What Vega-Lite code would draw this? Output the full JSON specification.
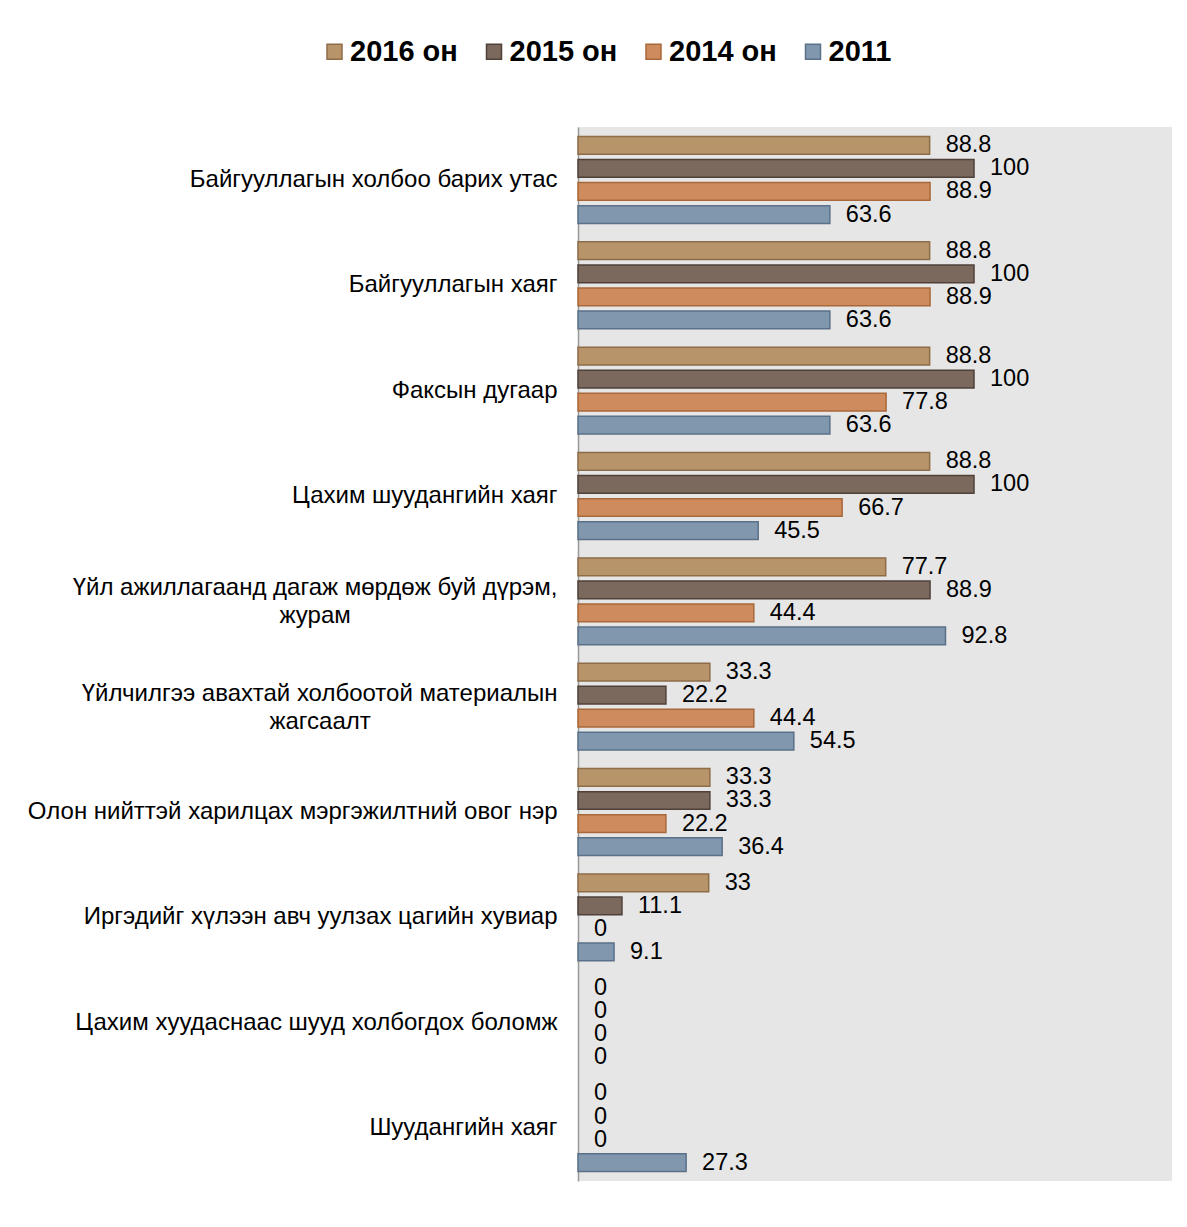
{
  "$schema": "https://vega.github.io/schema/vega-lite/v6.json",
  "autosize": "none",
  "width": 594,
  "height": 1054,
  "padding": {"left": 578, "top": 127, "right": 15, "bottom": 46},
  "background": "white",
  "data": {
    "values": [
      {"category": "Байгууллагын холбоо барих утас", "series": "2016 он", "value": 88.8},
      {"category": "Байгууллагын холбоо барих утас", "series": "2015 он", "value": 100},
      {"category": "Байгууллагын холбоо барих утас", "series": "2014 он", "value": 88.9},
      {"category": "Байгууллагын холбоо барих утас", "series": "2011", "value": 63.6},
      {"category": "Байгууллагын хаяг", "series": "2016 он", "value": 88.8},
      {"category": "Байгууллагын хаяг", "series": "2015 он", "value": 100},
      {"category": "Байгууллагын хаяг", "series": "2014 он", "value": 88.9},
      {"category": "Байгууллагын хаяг", "series": "2011", "value": 63.6},
      {"category": "Факсын дугаар", "series": "2016 он", "value": 88.8},
      {"category": "Факсын дугаар", "series": "2015 он", "value": 100},
      {"category": "Факсын дугаар", "series": "2014 он", "value": 77.8},
      {"category": "Факсын дугаар", "series": "2011", "value": 63.6},
      {"category": "Цахим шуудангийн хаяг", "series": "2016 он", "value": 88.8},
      {"category": "Цахим шуудангийн хаяг", "series": "2015 он", "value": 100},
      {"category": "Цахим шуудангийн хаяг", "series": "2014 он", "value": 66.7},
      {"category": "Цахим шуудангийн хаяг", "series": "2011", "value": 45.5},
      {"category": "Үйл ажиллагаанд дагаж мөрдөж буй дүрэм, журам", "series": "2016 он", "value": 77.7},
      {"category": "Үйл ажиллагаанд дагаж мөрдөж буй дүрэм, журам", "series": "2015 он", "value": 88.9},
      {"category": "Үйл ажиллагаанд дагаж мөрдөж буй дүрэм, журам", "series": "2014 он", "value": 44.4},
      {"category": "Үйл ажиллагаанд дагаж мөрдөж буй дүрэм, журам", "series": "2011", "value": 92.8},
      {"category": "Үйлчилгээ авахтай холбоотой материалын жагсаалт", "series": "2016 он", "value": 33.3},
      {"category": "Үйлчилгээ авахтай холбоотой материалын жагсаалт", "series": "2015 он", "value": 22.2},
      {"category": "Үйлчилгээ авахтай холбоотой материалын жагсаалт", "series": "2014 он", "value": 44.4},
      {"category": "Үйлчилгээ авахтай холбоотой материалын жагсаалт", "series": "2011", "value": 54.5},
      {"category": "Олон нийттэй харилцах мэргэжилтний овог нэр", "series": "2016 он", "value": 33.3},
      {"category": "Олон нийттэй харилцах мэргэжилтний овог нэр", "series": "2015 он", "value": 33.3},
      {"category": "Олон нийттэй харилцах мэргэжилтний овог нэр", "series": "2014 он", "value": 22.2},
      {"category": "Олон нийттэй харилцах мэргэжилтний овог нэр", "series": "2011", "value": 36.4},
      {"category": "Иргэдийг хүлээн авч уулзах цагийн хувиар", "series": "2016 он", "value": 33},
      {"category": "Иргэдийг хүлээн авч уулзах цагийн хувиар", "series": "2015 он", "value": 11.1},
      {"category": "Иргэдийг хүлээн авч уулзах цагийн хувиар", "series": "2014 он", "value": 0},
      {"category": "Иргэдийг хүлээн авч уулзах цагийн хувиар", "series": "2011", "value": 9.1},
      {"category": "Цахим хуудаснаас шууд холбогдох боломж", "series": "2016 он", "value": 0},
      {"category": "Цахим хуудаснаас шууд холбогдох боломж", "series": "2015 он", "value": 0},
      {"category": "Цахим хуудаснаас шууд холбогдох боломж", "series": "2014 он", "value": 0},
      {"category": "Цахим хуудаснаас шууд холбогдох боломж", "series": "2011", "value": 0},
      {"category": "Шуудангийн хаяг", "series": "2016 он", "value": 0},
      {"category": "Шуудангийн хаяг", "series": "2015 он", "value": 0},
      {"category": "Шуудангийн хаяг", "series": "2014 он", "value": 0},
      {"category": "Шуудангийн хаяг", "series": "2011", "value": 27.3}
    ]
  },
  "encoding": {
    "y": {
      "field": "category",
      "type": "nominal",
      "scale": {
        "domain": [
          "Байгууллагын холбоо барих утас",
          "Байгууллагын хаяг",
          "Факсын дугаар",
          "Цахим шуудангийн хаяг",
          "Үйл ажиллагаанд дагаж мөрдөж буй дүрэм, журам",
          "Үйлчилгээ авахтай холбоотой материалын жагсаалт",
          "Олон нийттэй харилцах мэргэжилтний овог нэр",
          "Иргэдийг хүлээн авч уулзах цагийн хувиар",
          "Цахим хуудаснаас шууд холбогдох боломж",
          "Шуудангийн хаяг"
        ],
        "paddingInner": 0.125,
        "paddingOuter": 0.065
      },
      "axis": {
        "title": null,
        "ticks": false,
        "labelPadding": 21,
        "labelFont": "Liberation Sans",
        "labelFontSize": 24,
        "labelColor": "#000000",
        "labelLineHeight": 28,
        "labelLimit": 0,
        "domainColor": "#999999",
        "domainWidth": 1.5,
        "grid": false,
        "labelOffset": {"expr": "indexof(datum.value, 'журам') >= 0 || indexof(datum.value, 'жагсаалт') >= 0 ? -13 : 0"},
        "labelExpr": "datum.label == 'Үйл ажиллагаанд дагаж мөрдөж буй дүрэм, журам' ? ['Үйл ажиллагаанд дагаж мөрдөж буй дүрэм,', 'журам' + pad('', 31, '\u00a0') + '\u200b'] : datum.label == 'Үйлчилгээ авахтай холбоотой материалын жагсаалт' ? ['Үйлчилгээ авахтай холбоотой материалын', 'жагсаалт' + pad('', 28, '\u00a0') + '\u200b'] : datum.label"
      }
    },
    "yOffset": {
      "field": "series",
      "type": "nominal",
      "sort": ["2016 он", "2015 он", "2014 он", "2011"],
      "scale": {"paddingInner": 0.23, "paddingOuter": 0.115}
    },
    "x": {
      "field": "value",
      "type": "quantitative",
      "scale": {"domain": [0, 150], "nice": false},
      "axis": null
    }
  },
  "layer": [
    {
      "transform": [{"filter": "datum.value > 0"}],
      "mark": {"type": "bar", "strokeWidth": 1.5},
      "encoding": {
        "fill": {
          "field": "series",
          "type": "nominal",
          "sort": ["2016 он", "2015 он", "2014 он", "2011"],
          "scale": {
            "domain": ["2016 он", "2015 он", "2014 он", "2011"],
            "range": ["#b8946b", "#7b695d", "#cd8b5e", "#8097ae"]
          },
          "legend": {
            "orient": "none",
            "legendX": -258,
            "legendY": -90,
            "direction": "horizontal",
            "title": null,
            "symbolType": "square",
            "symbolSize": 225,
            "symbolStrokeWidth": 1.5,
            "labelFont": "Liberation Sans",
            "labelFontSize": 29,
            "labelFontWeight": "bold",
            "labelColor": "#000000",
            "labelOffset": 1,
            "columnPadding": 21.5
          }
        },
        "stroke": {
          "field": "series",
          "type": "nominal",
          "sort": ["2016 он", "2015 он", "2014 он", "2011"],
          "scale": {
            "domain": ["2016 он", "2015 он", "2014 он", "2011"],
            "range": ["#8d6c48", "#4f4139", "#a9683a", "#5b7089"]
          },
          "legend": {
            "orient": "none",
            "legendX": -258,
            "legendY": -90,
            "direction": "horizontal",
            "title": null,
            "symbolType": "square",
            "symbolSize": 225,
            "symbolStrokeWidth": 1.5,
            "labelFont": "Liberation Sans",
            "labelFontSize": 29,
            "labelFontWeight": "bold",
            "labelColor": "#000000",
            "labelOffset": 1,
            "columnPadding": 21.5
          }
        }
      }
    },
    {
      "mark": {
        "type": "text",
        "align": "left",
        "baseline": "middle",
        "dx": 16,
        "font": "Liberation Sans",
        "fontSize": 23.5,
        "color": "#000000"
      },
      "encoding": {
        "text": {"field": "value", "type": "quantitative"}
      }
    }
  ],
  "config": {
    "view": {"fill": "#e6e6e6", "stroke": null}
  }
}
